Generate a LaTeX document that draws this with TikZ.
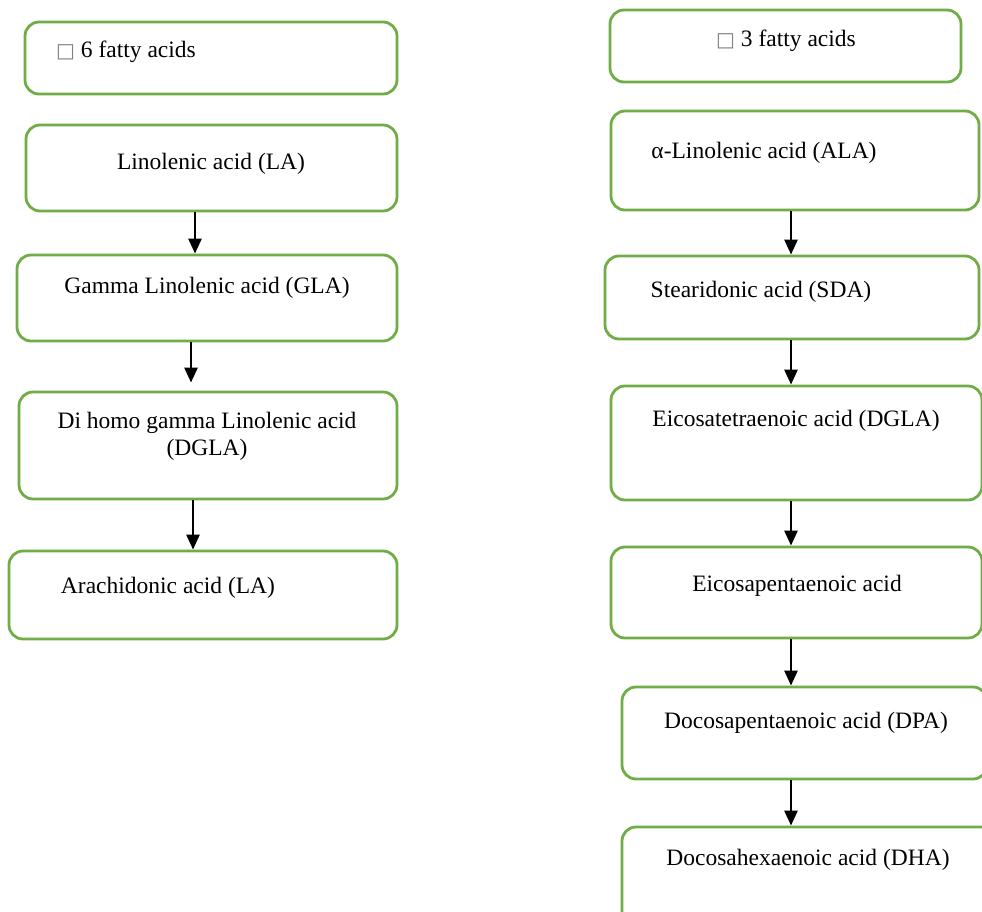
\documentclass[tikz,border=0pt]{standalone}
\usepackage{fontspec}
\setmainfont{Liberation Serif}
\newfontfamily\symfont{DejaVu Sans}
\usetikzlibrary{arrows.meta}
\definecolor{boxgreen}{HTML}{70AD47}
\tikzset{
  fabox/.style={draw=boxgreen, line width=2.8pt, rounded corners=14pt, fill=white, inner sep=0pt},
  flabel/.style={inner sep=0pt, font=\fontsize{23.5}{27}\selectfont},
  farrow/.style={draw=black, line width=2.6pt, -{Triangle[length=15pt,width=13pt]}},
}
\newcommand{\fabx}[5]{% name, left, top, right, bottom
  \node[fabox, minimum width={(#4-#2)*1pt}, minimum height={(#5-#3)*1pt}] (#1) at ({(#2+#4)/2},{(#3+#5)/2}) {};}
\newcommand{\missglyph}{{\symfont\color{gray}\fontsize{20}{22}\selectfont □}}
\begin{document}
\begin{tikzpicture}[x=1pt,y=-1pt]
\useasboundingbox (0,0) rectangle (982,912);
\fill[white] (0,0) rectangle (982,912);
\clip (0,0) rectangle (982,912);
% left column
\fabx{l1}{25}{22}{397}{94}
\fabx{l2}{26}{125}{397}{211}
\fabx{l3}{17}{255}{397}{341}
\fabx{l4}{19}{392}{397}{499}
\fabx{l5}{9}{551}{397}{639}
% right column
\fabx{r1}{610}{10}{961}{82}
\fabx{r2}{611}{111}{979}{210}
\fabx{r3}{605}{256}{979}{339}
\fabx{r4}{611}{386}{982}{500}
\fabx{r5}{611}{547}{982}{638}
\fabx{r6}{622}{687}{987}{779}
\fabx{r7}{622}{827}{995}{940}
% texts
\node[flabel, anchor=base west] (t1) at (56,58) {\missglyph{} 6 fatty acids};
\node[flabel, anchor=base] (t2) at (211,170) {Linolenic acid (LA)};
\node[flabel, anchor=base] (t3) at (207,293) {Gamma Linolenic acid (GLA)};
\node[flabel, anchor=base, align=center] (t4) at (207,455) {Di homo gamma Linolenic acid\\(DGLA)};
\node[flabel, anchor=base] (t5) at (168,593) {Arachidonic acid (LA)};
\node[flabel, anchor=base west] (u1) at (716,47) {\missglyph{} 3 fatty acids};
\node[flabel, anchor=base] (u2) at (764,159) {α-Linolenic acid (ALA)};
\node[flabel, anchor=base] (u3) at (761,297) {Stearidonic acid (SDA)};
\node[flabel, anchor=base] (u4) at (796,426) {Eicosatetraenoic acid (DGLA)};
\node[flabel, anchor=base] (u5) at (797,591) {Eicosapentaenoic acid};
\node[flabel, anchor=base] (u6) at (806,728) {Docosapentaenoic acid (DPA)};
\node[flabel, anchor=base] (u7) at (808,865) {Docosahexaenoic acid (DHA)};
% arrow x positions
\coordinate (ax1) at (195,0);
\coordinate (ax2) at (191,0);
\coordinate (ax3) at (193,0);
\coordinate (bx) at (791,0);
% arrows
\draw[farrow] (l2.south -| ax1) -- (l3.north -| ax1);
\draw[farrow, shorten >=8pt] (l3.south -| ax2) -- (l4.north -| ax2);
\draw[farrow] (l4.south -| ax3) -- (l5.north -| ax3);
\draw[farrow] (r2.south -| bx) -- (r3.north -| bx);
\draw[farrow] (r3.south -| bx) -- (r4.north -| bx);
\draw[farrow] (r4.south -| bx) -- (r5.north -| bx);
\draw[farrow] (r5.south -| bx) -- (r6.north -| bx);
\draw[farrow] (r6.south -| bx) -- (r7.north -| bx);
\end{tikzpicture}
\end{document}
